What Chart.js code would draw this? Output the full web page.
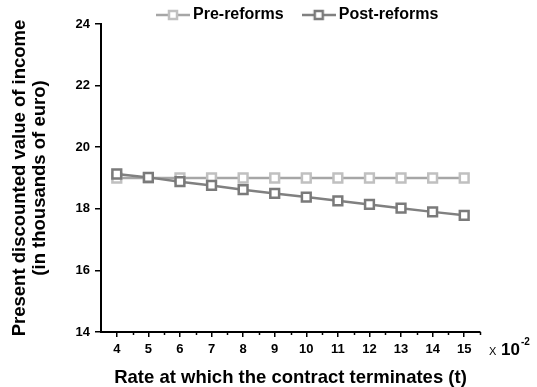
<!DOCTYPE html>
<html>
<head>
<meta charset="utf-8">
<script src="https://cdn.jsdelivr.net/npm/chart.js@4/dist/chart.umd.min.js"></script>
<style>
  html, body { margin:0; padding:0; background:#fff; }
  #wrap { width:537px; height:387px; position:relative; }
</style>
</head>
<body>
<div id="wrap"><canvas id="ch"></canvas></div>
<script>
'use strict';

/* ── data ── */
const rates = [4, 5, 6, 7, 8, 9, 10, 11, 12, 13, 14, 15];
const preReforms  = [19.0, 19.0, 19.0, 19.0, 19.0, 19.0, 19.0, 19.0, 19.0, 19.0, 19.0, 19.0];
const postReforms = [19.13, 19.02, 18.88, 18.76, 18.62, 18.50, 18.38, 18.26, 18.14, 18.02, 17.90, 17.79];
const yTicks = [14, 16, 18, 20, 22, 24];
const minorX = [4.5, 5.5, 6.5, 7.5, 8.5, 9.5, 10.5, 11.5, 12.5, 13.5, 14.5, 15.5];

const C = { preLine:'#a6a6a6', preMark:'#c0c0c0', postLine:'#808080', postMark:'#7a7a7a' };
const FONT = "'Liberation Sans', Arial, sans-serif";
Chart.defaults.font.family = FONT;
Chart.defaults.color = '#000';

/* legend swatch: line with an open square */
function swatch(line, mark) {
  const c = document.createElement('canvas');
  c.width = 34; c.height = 12;
  const x = c.getContext('2d');
  x.strokeStyle = line; x.lineWidth = 2.5;
  x.beginPath(); x.moveTo(0, 6); x.lineTo(34, 6); x.stroke();
  x.fillStyle = '#fff'; x.strokeStyle = mark; x.lineWidth = 2.5;
  x.fillRect(13, 2, 8, 8); x.strokeRect(13, 2, 8, 8);
  return c;
}
const swatches = [swatch(C.preLine, C.preMark), swatch(C.postLine, C.postMark)];

const toPts = arr => arr.map((v, i) => ({ x: rates[i], y: v }));

/* ── extras: minor ticks, x10^-2, legend placement ── */
const extras = {
  id: 'extras',
  afterLayout(chart) {
    const lg = chart.legend;
    if (!lg) return;
    // legend sits above the plot, over the top padding
    lg.left = 138; lg.right = 537; lg.width = 399;
    lg.top = -16; lg.height = 40; lg.bottom = 24;
  },
  afterDraw(chart) {
    const { ctx, chartArea, scales:{ x } } = chart;
    ctx.save();
    ctx.strokeStyle = '#000'; ctx.lineWidth = 1.5;
    minorX.forEach(v => {
      const px = Math.round(x.getPixelForValue(v)) + 0.5;
      ctx.beginPath(); ctx.moveTo(px, chartArea.bottom); ctx.lineTo(px, chartArea.bottom + 3); ctx.stroke();
    });
    ctx.fillStyle = '#000';
    ctx.textBaseline = 'alphabetic'; ctx.textAlign = 'left';
    ctx.font = `11px ${FONT}`;
    ctx.fillText('X', 489, 355);
    ctx.font = `bold 17px ${FONT}`;
    ctx.fillText('10', 501, 355);
    ctx.font = `bold 10px ${FONT}`;
    ctx.fillText('-2', 521, 345);
    ctx.restore();
  }
};

new Chart(document.getElementById('ch'), {
  type: 'line',
  data: {
    datasets: [
      { label:'Pre-reforms', data: toPts(preReforms), order:1,
        borderColor:C.preLine, borderWidth:2.5,
        pointStyle:'rect', pointRadius:6.2, pointBorderWidth:2.5,
        pointBorderColor:C.preMark, pointBackgroundColor:'#fff' },
      { label:'Post-reforms', data: toPts(postReforms), order:0,
        borderColor:C.postLine, borderWidth:2.5,
        pointStyle:'rect', pointRadius:6.2, pointBorderWidth:2.5,
        pointBorderColor:C.postMark, pointBackgroundColor:'#fff' }
    ]
  },
  options: {
    responsive:true, maintainAspectRatio:false, animation:false,
    layout:{ padding:{ top:14, right:57, left:0, bottom:0 } },
    plugins:{
      tooltip:{ enabled:false },
      legend:{
        position:'top', align:'start', maxHeight:10,
        labels:{
          usePointStyle:true, pointStyleWidth:24, padding:23,
          font:{ size:16, weight:'bold' }, color:'#000',
          sort:(a, b) => a.datasetIndex - b.datasetIndex,
          generateLabels(chart) {
            const items = Chart.defaults.plugins.legend.labels.generateLabels(chart);
            items.forEach(it => { it.pointStyle = swatches[it.datasetIndex]; });
            return items;
          }
        }
      }
    },
    scales:{
      x:{
        type:'linear', min:3.5, max:15.5,
        afterBuildTicks: s => { s.ticks = rates.map(v => ({ value:v })); },
        afterFit: s => { s.height = 55; },
        border:{ display:true, color:'#000', width:2 },
        grid:{ drawOnChartArea:false, drawTicks:true, tickLength:5, color:'#000', lineWidth:1.5 },
        ticks:{ font:{ size:13, weight:'bold' }, color:'#000', padding:5, maxRotation:0, autoSkip:false },
        title:{ display:true, text:'Rate at which the contract terminates (t)',
          font:{ size:18.5, weight:'bold', lineHeight:1 }, color:'#000', padding:{ top:0, bottom:0 } }
      },
      y:{
        min:14, max:24,
        afterBuildTicks: s => { s.ticks = yTicks.map(v => ({ value:v })); },
        afterFit: s => { s.width = 101; },
        border:{ display:true, color:'#000', width:2 },
        grid:{ drawOnChartArea:false, drawTicks:true, tickLength:6, color:'#000', lineWidth:1.5 },
        ticks:{ font:{ size:13, weight:'bold' }, color:'#000', padding:5 },
        title:{ display:true, text:['Present discounted value of income', '(in thousands of euro)'],
          font:{ size:18.5, weight:'bold', lineHeight:1.08 }, color:'#000', padding:{ top:9.6, bottom:0 } }
      }
    }
  },
  plugins:[extras]
});
</script>
</body>
</html>
